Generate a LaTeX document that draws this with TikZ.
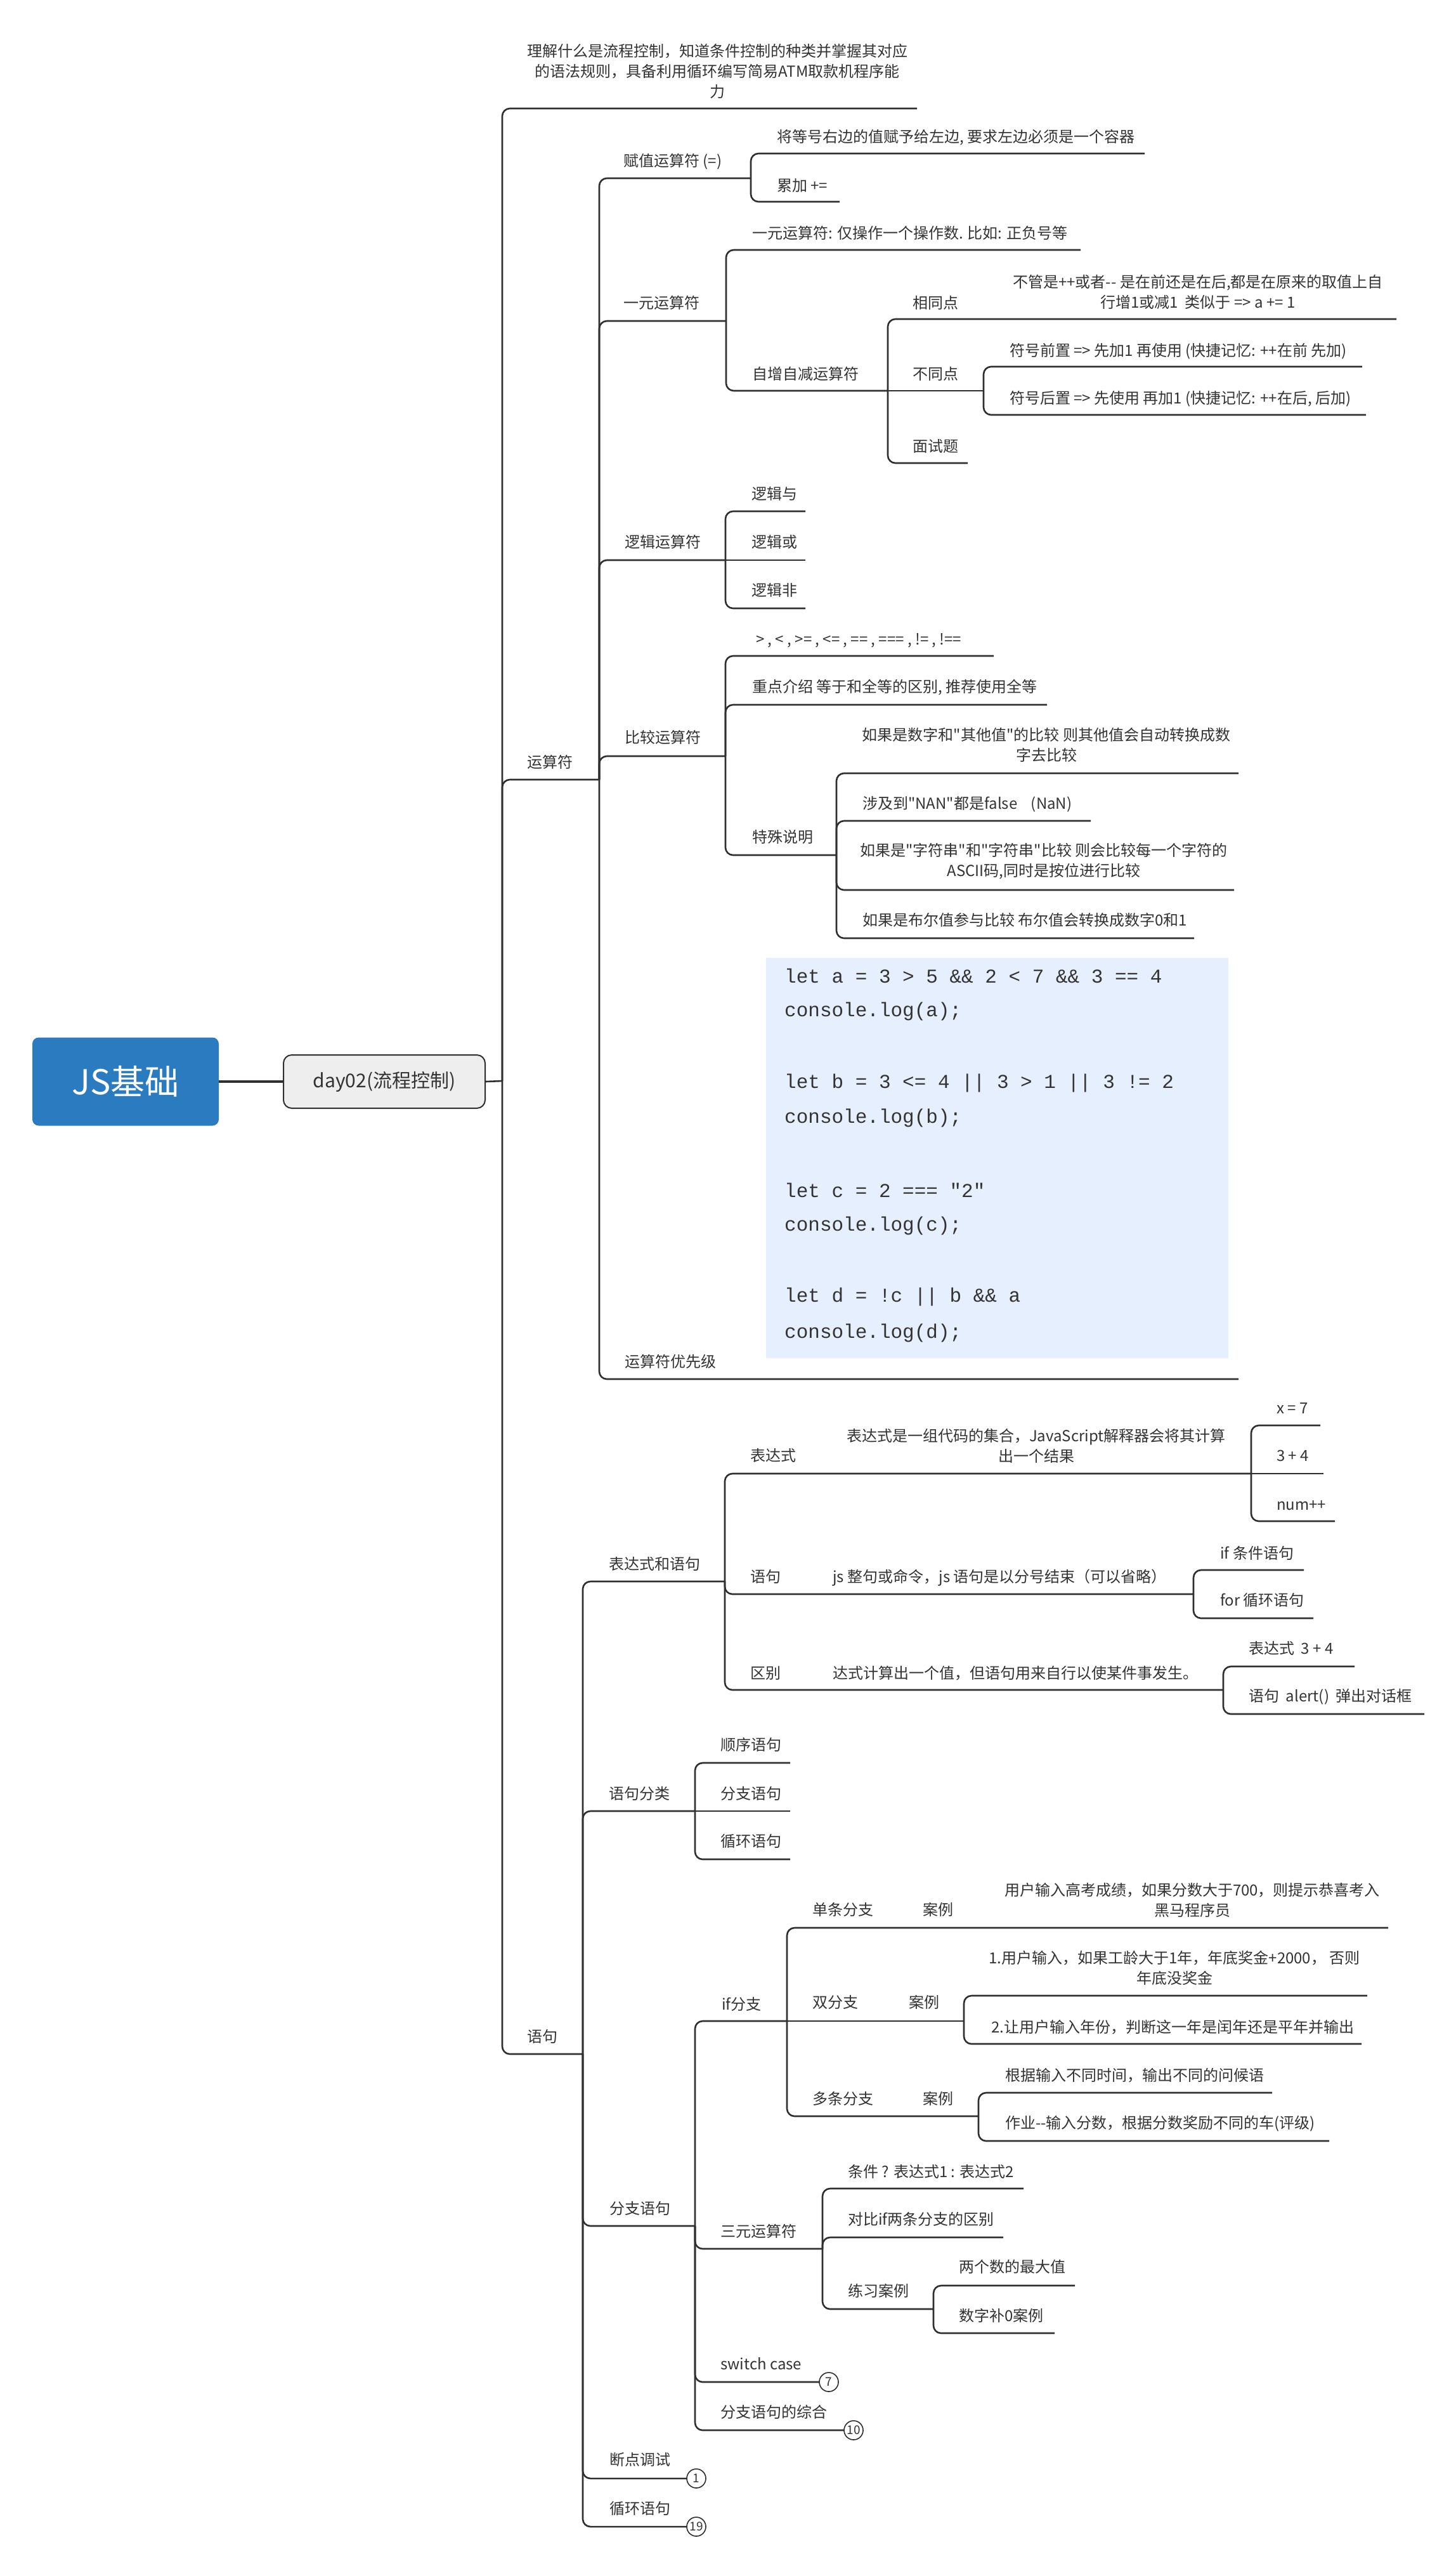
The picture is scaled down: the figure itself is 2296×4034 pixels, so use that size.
\documentclass[tikz,border=0pt]{standalone}
\usepackage{fontspec}
\setmainfont{Noto Sans CJK SC}[Ligatures=TeXOff]
\newfontfamily\codefont{Liberation Mono}[Ligatures=TeXOff]
\definecolor{ln}{HTML}{2F2F2F}
\definecolor{tx}{HTML}{333333}
\definecolor{rootblue}{HTML}{2B7BC1}
\definecolor{codebg}{HTML}{E6EFFD}
\definecolor{daybg}{HTML}{EEEEEE}
\newcommand\brn[4]{\draw[conn] (#1,#2) |- (#4,#3);}
\newcommand\brs[3]{\draw[conn] (#1,#2) -- (#3,#2);}
\begin{document}
\begin{tikzpicture}[x=1pt,y=-1pt,
  conn/.style={draw=ln, line width=2.6pt, rounded corners=12pt},
  lbl/.style={anchor=west, inner sep=0pt, text=tx, font=\fontsize{24}{32}\selectfont, text height=21pt, text depth=3pt},
  mlbl/.style={anchor=center, inner sep=0pt, align=center, text=tx, font=\fontsize{24}{32}\selectfont},
  codeln/.style={anchor=west, inner sep=0pt, text=tx, font=\codefont\fontsize{31}{36}\selectfont},
  badge/.style={circle, draw=ln, line width=1.6pt, fill=white, minimum size=30pt, inner sep=0pt, font=\fontsize{19}{19}\selectfont, text=tx},
  rootbox/.style={fill=rootblue, rounded corners=10pt, minimum width=294pt, minimum height=139pt, inner sep=0pt, text=white, font=\fontsize{54}{60}\selectfont},
  daybox/.style={fill=daybg, draw=ln, line width=2pt, rounded corners=13pt, minimum width=318pt, minimum height=84pt, inner sep=0pt, text=tx, font=\fontsize{30}{36}\selectfont}
]
\useasboundingbox[fill=white] (0,0) rectangle (2296,4034);

% ---------- connectors ----------
% level 1
\brn{792}{1704}{171}{1446}
\brn{792}{1704}{1229}{945}
\brn{792}{1704}{3238}{919}
% 运算符
\brn{945}{1229}{281}{1184}
\brn{945}{1229}{506}{1145}
\brn{945}{1229}{883}{1144}
\brn{945}{1229}{1192}{1144}
\brn{945}{1229}{2174}{1953}
% 赋值
\brn{1184}{281}{242}{1805}
\brn{1184}{281}{318}{1324}
% 一元
\brn{1145}{506}{394}{1704}
\brn{1145}{506}{616}{1400}
% 自增自减
\brn{1400}{616}{503}{2202}
\brs{1400}{616}{1551}
\brn{1400}{616}{730}{1526}
% 不同点
\brn{1551}{616}{578}{2148}
\brn{1551}{616}{654}{2154}
% 逻辑
\brn{1144}{883}{806}{1270}
\brs{1144}{883}{1270}
\brn{1144}{883}{959}{1270}
% 比较
\brn{1144}{1192}{1034}{1567}
\brn{1144}{1192}{1111}{1651}
\brn{1144}{1192}{1348}{1319}
% 特殊说明
\brn{1319}{1348}{1219}{1953}
\brn{1319}{1348}{1294}{1720}
\brn{1319}{1348}{1403}{1946}
\brn{1319}{1348}{1479}{1883}
% 语句
\brn{919}{3238}{2493}{1143}
\brn{919}{3238}{2855}{1096}
\brn{919}{3238}{3509}{1096}
\brn{919}{3238}{3907}{1083}
\brn{919}{3238}{3983}{1083}
% 表达式和语句
\brn{1143}{2493}{2323}{1973}
\brn{1143}{2493}{2513}{1882}
\brn{1143}{2493}{2664}{1929}
% 表达式是
\brn{1973}{2323}{2247}{2082}
\brs{1973}{2323}{2087}
\brn{1973}{2323}{2398}{2105}
% js
\brn{1882}{2513}{2475}{2056}
\brn{1882}{2513}{2551}{2071}
% 区别
\brn{1929}{2664}{2627}{2136}
\brn{1929}{2664}{2702}{2246}
% 语句分类
\brn{1096}{2855}{2779}{1246}
\brs{1096}{2855}{1246}
\brn{1096}{2855}{2931}{1246}
% 分支语句
\brn{1096}{3509}{3186}{1241}
\brn{1096}{3509}{3545}{1297}
\brn{1096}{3509}{3755}{1292}
\brn{1096}{3509}{3831}{1331}
% if分支
\brn{1241}{3186}{3039}{2189}
\brs{1241}{3186}{1520}
\brn{1241}{3186}{3336}{1543}
% 双分支
\brn{1520}{3186}{3146}{2156}
\brn{1520}{3186}{3222}{2147}
% 多条分支
\brn{1543}{3336}{3299}{2006}
\brn{1543}{3336}{3375}{2096}
% 三元
\brn{1297}{3545}{3450}{1614}
\brn{1297}{3545}{3527}{1582}
\brn{1297}{3545}{3640}{1472}
% 练习案例
\brn{1472}{3640}{3603}{1695}
\brn{1472}{3640}{3678}{1663}

% ---------- root ----------
\node[rootbox] (root) at (198,1705) {JS基础};
\node[daybox] (day) at (606,1705) {day02(流程控制)};
\draw[ln, line width=4pt] (root.east) -- (day.west);
\coordinate (trunk) at (792,1704);
\draw[conn] (day.east) -- (trunk);

% ---------- level 1 ----------
\node[mlbl] (goal) at (1131,112) {理解什么是流程控制，知道条件控制的种类并掌握其对应\\的语法规则，具备利用循环编写简易ATM取款机程序能\\力};
\node[lbl] (ops) at (831,1201) {运算符};
\node[lbl] (stmt) at (831,3210) {语句};

% ---------- 运算符 ----------
\node[lbl] (fz) at (983,253) {赋值运算符 (=)};
\node[lbl] (fz1) at (1225,215) {将等号右边的值赋予给左边, 要求左边必须是一个容器};
\node[lbl] (fz2) at (1225,292) {累加 +=};
\node[lbl] (yy) at (983,477) {一元运算符};
\node[lbl] (yy1) at (1186,367) {一元运算符: 仅操作一个操作数. 比如: 正负号等};
\node[lbl] (zz) at (1186,589) {自增自减运算符};
\node[lbl] (xt) at (1439,477) {相同点};
\node[mlbl] (xt1) at (1889,460) {不管是++或者-{}- 是在前还是在后,都是在原来的取值上自\\行增1或减1\ \ 类似于 => a += 1};
\node[lbl] (bt) at (1439,589) {不同点};
\node[lbl] (bt1) at (1592,552) {符号前置 => 先加1 再使用 (快捷记忆: ++在前 先加)};
\node[lbl] (bt2) at (1592,627) {符号后置 => 先使用 再加1 (快捷记忆: ++在后, 后加)};
\node[lbl] (ms) at (1439,703) {面试题};
\node[lbl] (lj) at (985,854) {逻辑运算符};
\node[lbl] (lj1) at (1185,778) {逻辑与};
\node[lbl] (lj2) at (1185,854) {逻辑或};
\node[lbl] (lj3) at (1185,930) {逻辑非};
\node[lbl] (bj) at (985,1162) {比较运算符};
\node[lbl] (bj1) at (1192,1007) {> , < , >= , <= , == , === , != , !==};
\node[lbl] (bj2) at (1186,1082) {重点介绍 等于和全等的区别, 推荐使用全等};
\node[lbl] (ts) at (1186,1319) {特殊说明};
\node[mlbl] (ts1) at (1650,1174) {如果是数字和"其他值"的比较 则其他值会自动转换成数\\字去比较};
\node[lbl] (ts2) at (1360,1266) {涉及到"NAN"都是false\ \ \ \ (NaN)};
\node[mlbl] (ts3) at (1646,1358) {如果是"字符串"和"字符串"比较 则会比较每一个字符的\\ASCII码,同时是按位进行比较};
\node[lbl] (ts4) at (1360,1450) {如果是布尔值参与比较 布尔值会转换成数字0和1};
\node[lbl] (yx) at (985,2146) {运算符优先级};
\node[fill=codebg, anchor=north west, inner sep=0pt, minimum width=729pt, minimum height=631pt] (code) at (1208,1510) {};
\node[codeln] (c1) at (1237,1538) {let a = 3 > 5 \&\& 2 < 7 \&\& 3 == 4};
\node[codeln] (c2) at (1237,1594) {console.log(a);};
\node[codeln] (c3) at (1237,1707) {let b = 3 <= 4 || 3 > 1 || 3 != 2};
\node[codeln] (c4) at (1237,1762) {console.log(b);};
\node[codeln] (c5) at (1237,1876) {let c = 2 === "2"};
\node[codeln] (c6) at (1237,1932) {console.log(c);};
\node[codeln] (c7) at (1237,2044) {let d = !c || b \&\& a};
\node[codeln] (c8) at (1237,2101) {console.log(d);};

% ---------- 语句 ----------
\node[lbl] (bd) at (960,2465) {表达式和语句};
\node[lbl] (bds) at (1183,2294) {表达式};
\node[mlbl] (bds1) at (1634,2279) {表达式是一组代码的集合，JavaScript解释器会将其计算\\出一个结果};
\node[lbl] (e1) at (2013,2219) {x = 7};
\node[lbl] (e2) at (2013,2294) {3 + 4};
\node[lbl] (e3) at (2013,2371) {num++};
\node[lbl] (yj) at (1183,2485) {语句};
\node[lbl] (yj1) at (1313,2485) {js 整句或命令，js 语句是以分号结束（可以省略）};
\node[lbl] (s1) at (1924,2448) {if 条件语句};
\node[lbl] (s2) at (1924,2522) {for 循环语句};
\node[lbl] (qb) at (1183,2637) {区别};
\node[lbl] (qb1) at (1313,2637) {达式计算出一个值，但语句用来自行以使某件事发生。};
\node[lbl] (q1) at (1969,2598) {表达式\ \ 3 + 4};
\node[lbl] (q2) at (1969,2673) {语句\ \ alert()\ \ 弹出对话框};
\node[lbl] (fl) at (960,2827) {语句分类};
\node[lbl] (fl1) at (1136,2750) {顺序语句};
\node[lbl] (fl2) at (1136,2827) {分支语句};
\node[lbl] (fl3) at (1136,2902) {循环语句};
\node[lbl] (fz0) at (961,3481) {分支语句};
\node[lbl] (if) at (1138,3159) {if分支};
\node[lbl] (dt) at (1281,3010) {单条分支};
\node[lbl] (dta) at (1455,3010) {案例};
\node[mlbl] (dt1) at (1880,2995) {用户输入高考成绩，如果分数大于700，则提示恭喜考入\\黑马程序员};
\node[lbl] (sf) at (1281,3156) {双分支};
\node[lbl] (sfa) at (1433,3156) {案例};
\node[mlbl] (sf1) at (1852,3102) {1.用户输入，如果工龄大于1年，年底奖金+2000，\ 否则\\年底没奖金};
\node[lbl] (sf2) at (1563,3195) {2.让用户输入年份，判断这一年是闰年还是平年并输出};
\node[lbl] (dd) at (1281,3308) {多条分支};
\node[lbl] (dda) at (1455,3308) {案例};
\node[lbl] (dd1) at (1585,3271) {根据输入不同时间，输出不同的问候语};
\node[lbl] (dd2) at (1585,3346) {作业-{}-输入分数，根据分数奖励不同的车(评级)};
\node[lbl] (sy) at (1136,3517) {三元运算符};
\node[lbl] (sy1) at (1337,3423) {条件 ? 表达式1 : 表达式2};
\node[lbl] (sy2) at (1337,3498) {对比if两条分支的区别};
\node[lbl] (lx) at (1337,3611) {练习案例};
\node[lbl] (lx1) at (1512,3573) {两个数的最大值};
\node[lbl] (lx2) at (1512,3650) {数字补0案例};
\node[lbl] (sw) at (1136,3726) {switch case};
\node[lbl] (zh) at (1136,3802) {分支语句的综合};
\node[lbl] (dbg) at (961,3877) {断点调试};
\node[lbl] (xh) at (961,3954) {循环语句};
\node[badge] (b7) at (1307,3755) {7};
\node[badge] (b10) at (1346,3831) {10};
\node[badge] (b1) at (1098,3907) {1};
\node[badge] (b19) at (1098,3983) {19};
\end{tikzpicture}
\end{document}
